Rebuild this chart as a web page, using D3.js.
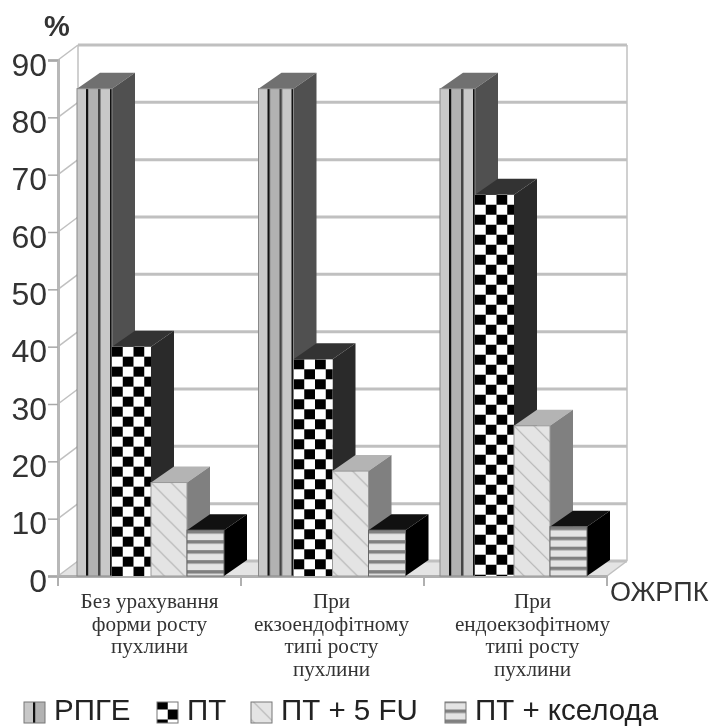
<!DOCTYPE html>
<html>
<head>
<meta charset="utf-8">
<script src="https://cdnjs.cloudflare.com/ajax/libs/d3/7.8.5/d3.min.js"></script>
<style>
body { margin: 0; background: #fff; }
svg { display: block; filter: blur(0.6px); }
</style>
</head>
<body>
<svg></svg>
<script>
const width = 722;
const height = 726;

const categories = ["group1", "group2", "group3"];
const categoryLabels = [
    ["Без урахування", "форми росту", "пухлини"],
    ["При", "екзоендофітному", "типі росту", "пухлини"],
    ["При", "ендоекзофітному", "типі росту", "пухлини"]
];
const seriesNames = ["РПГЕ", "ПТ", "ПТ + 5 FU", "ПТ + кселода"];
const rpge = [85, 85, 85];
const pt = [40, 37.8, 66.5];
const pt5fu = [16.3, 18.3, 26.2];
const ptXeloda = [8, 8, 8.6];
const yTicks = [0, 10, 20, 30, 40, 50, 60, 70, 80, 90];

const seriesValues = [rpge, pt, pt5fu, ptXeloda];
const seriesFill = ["url(#stripesV)", "url(#checker)", "url(#hatch)", "url(#stripesH)"];
const topColor = ["#707070", "#333333", "#b4b4b4", "#111111"];
const sideColor = ["#505050", "#2a2a2a", "#808080", "#000000"];
const edgeColor = ["#888888", "none", "#999999", "#666666"];
const seriesWidth = [35, 39, 36, 37];

const depthX = 20, depthY = 15;       // wall depth
const barDepthX = 23, barDepthY = 16; // bar depth

const x = d3.scaleBand().domain(categories).range([58, 607]);
// the bar clusters sit a little tighter than the axis ticks
const xBars = d3.scaleBand().domain(categories).range([58, 602.5]);
const y = d3.scaleLinear().domain([0, 90]).range([576, 60]);

const svg = d3.select("svg")
    .attr("width", width)
    .attr("height", height);

const defs = svg.append("defs");

const stripesV = defs.append("pattern").attr("id", "stripesV")
    .attr("patternUnits", "userSpaceOnUse").attr("width", 24).attr("height", 12);
stripesV.append("rect").attr("width", 24).attr("height", 12).attr("fill", "#c8c8c8");
stripesV.append("rect").attr("x", 9).attr("width", 2.5).attr("height", 12).attr("fill", "#111");
stripesV.append("rect").attr("x", 11.5).attr("width", 9.5).attr("height", 12).attr("fill", "#b2b2b2");
stripesV.append("rect").attr("x", 21).attr("width", 2.5).attr("height", 12).attr("fill", "#444");

const checker = defs.append("pattern").attr("id", "checker")
    .attr("patternUnits", "userSpaceOnUse").attr("width", 21.5).attr("height", 20);
checker.append("rect").attr("width", 21.5).attr("height", 20).attr("fill", "#fff");
checker.append("rect").attr("width", 10.75).attr("height", 10).attr("fill", "#000");
checker.append("rect").attr("x", 10.75).attr("y", 10).attr("width", 10.75).attr("height", 10).attr("fill", "#000");

const hatch = defs.append("pattern").attr("id", "hatch")
    .attr("patternUnits", "userSpaceOnUse").attr("width", 20).attr("height", 20);
hatch.append("rect").attr("width", 20).attr("height", 20).attr("fill", "#e4e4e4");
hatch.append("path").attr("d", "M-5,-5L25,25M-5,15L5,25M15,-5L25,5")
    .attr("stroke", "#b4b4b4").attr("stroke-width", 1.2);

const stripesH = defs.append("pattern").attr("id", "stripesH")
    .attr("patternUnits", "userSpaceOnUse").attr("width", 12).attr("height", 10);
stripesH.append("rect").attr("width", 12).attr("height", 10).attr("fill", "#e4e4e4");
stripesH.append("rect").attr("width", 12).attr("height", 3.5).attr("fill", "#808080");

const poly = pts => {
    const p = d3.path();
    pts.forEach((q, i) => i ? p.lineTo(q[0], q[1]) : p.moveTo(q[0], q[1]));
    p.closePath();
    return p.toString();
};

const [x0, x1] = x.range();
const yBase = y(0), yTop = y(90);
const gridColor = "#c0c0c0";

// floor
svg.append("path")
    .attr("d", poly([[x0, yBase], [x0 + depthX, yBase - depthY], [x1 + depthX, yBase - depthY], [x1, yBase]]))
    .attr("fill", "#e4e4e4");

// gridlines on the back wall and the side wall
const grid = svg.append("g").selectAll("g")
    .data(yTicks)
    .enter().append("g");

grid.append("line")
    .attr("x1", x0 + depthX).attr("x2", x1 + depthX)
    .attr("y1", d => y(d) - depthY).attr("y2", d => y(d) - depthY)
    .attr("stroke", gridColor).attr("stroke-width", 3);

grid.append("line")
    .attr("x1", x0).attr("x2", x0 + depthX)
    .attr("y1", d => y(d)).attr("y2", d => y(d) - depthY)
    .attr("stroke", gridColor).attr("stroke-width", 1.5);

svg.append("line")
    .attr("x1", x0 + depthX).attr("x2", x0 + depthX)
    .attr("y1", yTop - depthY).attr("y2", yBase - depthY)
    .attr("stroke", gridColor).attr("stroke-width", 1.5);
svg.append("line")
    .attr("x1", x1 + depthX).attr("x2", x1 + depthX)
    .attr("y1", yTop - depthY).attr("y2", yBase - depthY)
    .attr("stroke", gridColor).attr("stroke-width", 1.5);
svg.append("line")
    .attr("x1", x1).attr("x2", x1 + depthX)
    .attr("y1", yBase).attr("y2", yBase - depthY)
    .attr("stroke", gridColor).attr("stroke-width", 1.5);

// axes
const yAxis = d3.axisLeft(y).tickValues(yTicks).tickSize(10).tickPadding(1);
const yAxisG = svg.append("g")
    .attr("transform", `translate(${x0},0)`)
    .call(yAxis);
yAxisG.select(".domain").attr("stroke", "#b8b8b8").attr("stroke-width", 3);
yAxisG.selectAll(".tick line").attr("stroke", "#a8a8a8").attr("stroke-width", 1.5);
yAxisG.selectAll("text")
    .attr("font-family", "'Liberation Sans', Arial, sans-serif")
    .attr("font-size", 32)
    .attr("y", 5)
    .attr("fill", "#333");

const xAxis = d3.axisBottom(x).tickValues([]).tickSize(0);
const xAxisG = svg.append("g")
    .attr("transform", `translate(0,${yBase})`)
    .call(xAxis);
xAxisG.select(".domain").attr("stroke", "#b0b0b0").attr("stroke-width", 3);

svg.append("g").selectAll("line")
    .data(categories.concat("end"))
    .enter().append("line")
    .attr("x1", d => d === "end" ? x1 : x(d))
    .attr("x2", d => d === "end" ? x1 : x(d))
    .attr("y1", yBase).attr("y2", yBase + 10)
    .attr("stroke", "#b0b0b0").attr("stroke-width", 2);

// bars, painted left to right so each front covers the previous side face
const barOffset = 19;
categories.forEach((cat, c) => {
    let left = xBars(cat) + barOffset;
    seriesValues.forEach((values, s) => {
        const right = left + seriesWidth[s];
        const top = y(values[c]);
        const g = svg.append("g").attr("class", "bar");
        g.append("path")
            .attr("d", poly([[left, top], [left + barDepthX, top - barDepthY], [right + barDepthX, top - barDepthY], [right, top]]))
            .attr("fill", topColor[s]);
        g.append("path")
            .attr("d", poly([[right, top], [right + barDepthX, top - barDepthY], [right + barDepthX, yBase - barDepthY], [right, yBase]]))
            .attr("fill", sideColor[s]);
        // translated so the fill pattern starts at the bar's top left corner
        g.append("rect")
            .attr("transform", `translate(${left},${top})`)
            .attr("width", seriesWidth[s]).attr("height", yBase - top)
            .attr("fill", seriesFill[s])
            .attr("stroke", edgeColor[s]);
        left = right;
    });
});

// category labels
const labelShift = [0, -1, 17];
const labels = svg.append("g").selectAll("text")
    .data(categories)
    .enter().append("text")
    .attr("text-anchor", "middle")
    .attr("font-family", "'Liberation Serif', 'Times New Roman', serif")
    .attr("font-size", 21.2)
    .attr("fill", "#333");

labels.selectAll("tspan")
    .data((d, i) => categoryLabels[i].map(t => ({ t, cat: d, shift: labelShift[i] })))
    .enter().append("tspan")
    .attr("x", d => x(d.cat) + x.bandwidth() / 2 + d.shift)
    .attr("y", (d, i) => 608 + i * 22.5)
    .text(d => d.t);

// axis titles
svg.append("text")
    .attr("x", 44).attr("y", 36)
    .attr("font-family", "'Liberation Sans', Arial, sans-serif")
    .attr("font-size", 29).attr("font-weight", "bold")
    .attr("fill", "#333")
    .text("%");
svg.append("text")
    .attr("x", 610).attr("y", 601)
    .attr("font-family", "'Liberation Sans', Arial, sans-serif")
    .attr("font-size", 27)
    .attr("fill", "#333")
    .text("ОЖРПК");

// legend
const legendX = [24, 157, 251, 445];
const legend = svg.append("g").selectAll("g")
    .data(seriesNames)
    .enter().append("g")
    .attr("transform", (d, i) => `translate(${legendX[i]},719.5)`);

legend.append("rect")
    .attr("y", -17.5)
    .attr("width", 21).attr("height", 21)
    .attr("fill", (d, i) => seriesFill[i])
    .attr("stroke", "#777").attr("stroke-width", 1);

legend.append("text")
    .attr("x", 30)
    .attr("font-family", "'Liberation Sans', Arial, sans-serif")
    .attr("font-size", 29.5)
    .attr("fill", "#222")
    .text(d => d);
</script>
</body>
</html>
